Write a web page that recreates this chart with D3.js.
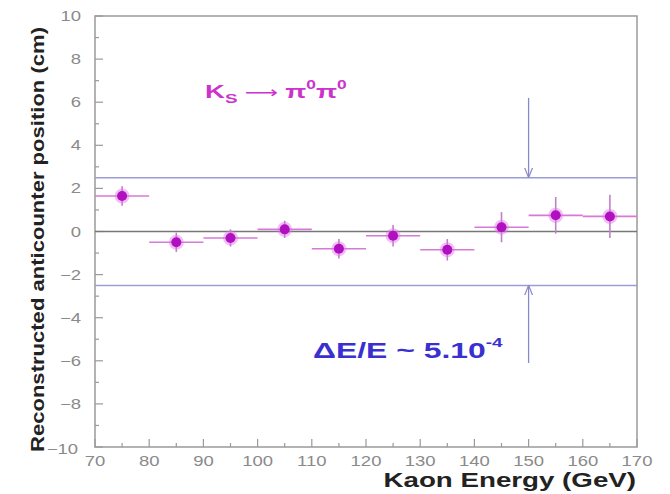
<!DOCTYPE html>
<html><head><meta charset="utf-8">
<script src="https://cdn.jsdelivr.net/npm/d3@7"></script>
<style>body{margin:0;background:#fff}svg{display:block}</style>
</head><body>
<svg id="c" width="670" height="494"></svg>
<script>
const energies = [75, 85, 95, 105, 115, 125, 135, 145, 155, 165];
const positions = [1.65, -0.5, -0.3, 0.1, -0.8, -0.2, -0.85, 0.2, 0.75, 0.7];
const posErrors = [0.45, 0.45, 0.4, 0.4, 0.45, 0.5, 0.5, 0.7, 0.85, 1.0];
const binHalfWidth = 5;
const xTicks = [70, 80, 90, 100, 110, 120, 130, 140, 150, 160, 170];
const yTicks = [-10, -8, -6, -4, -2, 0, 2, 4, 6, 8, 10];
const bandLimits = [2.5, -2.5];
const arrowX = 150;
const arrowStarts = [6.2, -6.1];

const svg = d3.select("#c");
const L = 95, R = 637, T = 16, B = 447;
const SX = 1.32; // horizontal stretch of the original picture's lettering
const FF = "Liberation Sans, Arial, sans-serif";
const x = d3.scaleLinear().domain([70, 170]).range([L, R]);
const y = d3.scaleLinear().domain([-10, 10]).range([B, T]);
const axisCol = "#9a9a9a";

// frame
svg.append("rect").attr("x", L).attr("y", T).attr("width", R - L).attr("height", B - T)
  .attr("fill", "none").attr("stroke", axisCol).attr("stroke-width", 1.5);

// ticks (inside)
const yMinor = d3.range(-10, 10.01, 1);
svg.append("g").selectAll("line").data(yMinor).join("line")
  .attr("x1", L).attr("x2", d => L + (d % 2 === 0 ? 8 : 4))
  .attr("y1", d => y(d)).attr("y2", d => y(d))
  .attr("stroke", axisCol).attr("stroke-width", 1.2);
const xMinor = d3.range(70, 170.01, 5);
svg.append("g").selectAll("line").data(xMinor).join("line")
  .attr("x1", d => x(d)).attr("x2", d => x(d))
  .attr("y1", B).attr("y2", d => B - (d % 10 === 0 ? 8 : 4))
  .attr("stroke", axisCol).attr("stroke-width", 1.2);

// tick labels
svg.append("g").selectAll("text").data(yTicks).join("text")
  .attr("transform", d => `translate(${d === -10 ? L - 17 : L - 14},${y(d) + 5 + (d === -10 ? 2 : 0)}) scale(${SX},1)`)
  .attr("text-anchor", "end").attr("fill", "#8a8a8a")
  .attr("font-family", FF).attr("font-size", 14)
  .text(d => d < 0 ? "\u2212" + Math.abs(d) : d);
svg.append("g").selectAll("text").data(xTicks).join("text")
  .attr("transform", d => `translate(${x(d)},${B + 19}) scale(${SX},1)`)
  .attr("text-anchor", "middle").attr("fill", "#8a8a8a")
  .attr("font-family", FF).attr("font-size", 14)
  .text(d => d);

// axis titles
svg.append("text").attr("transform", `translate(44,${(T + B) / 2 + 8}) rotate(-90)`)
  .attr("text-anchor", "middle").attr("font-family", FF)
  .attr("font-weight", "bold").attr("font-size", 18).attr("fill", "#222")
  .attr("textLength", 425).attr("lengthAdjust", "spacingAndGlyphs")
  .text("Reconstructed anticounter position (cm)");
svg.append("text").attr("transform", `translate(${R - 1},${B + 40}) scale(${SX},1)`).attr("text-anchor", "end")
  .attr("font-family", FF)
  .attr("font-weight", "bold").attr("font-size", 21).attr("fill", "#222")
  .text("Kaon Energy (GeV)");

// zero line and band lines
svg.append("line").attr("x1", L).attr("x2", R).attr("y1", y(0)).attr("y2", y(0))
  .attr("stroke", "#777").attr("stroke-width", 1.3);
svg.append("g").selectAll("line").data(bandLimits).join("line")
  .attr("x1", L).attr("x2", R).attr("y1", d => y(d)).attr("y2", d => y(d))
  .attr("stroke", "#9c9cd8").attr("stroke-width", 1.5);

// arrows
const defs = svg.append("defs");
defs.append("marker").attr("id", "ah").attr("viewBox", "0 0 10 10").attr("refX", 10).attr("refY", 5)
  .attr("markerWidth", 10).attr("markerHeight", 10).attr("markerUnits", "userSpaceOnUse").attr("orient", "auto")
  .append("path").attr("d", "M0,1 L10,5 L0,9").attr("fill", "none").attr("stroke", "#8888cc").attr("stroke-width", 1.2);
svg.append("g").selectAll("line").data(arrowStarts).join("line")
  .attr("x1", x(arrowX)).attr("x2", x(arrowX))
  .attr("y1", d => y(d)).attr("y2", (d, i) => y(bandLimits[i]))
  .attr("stroke", "#8888cc").attr("stroke-width", 1.3).attr("marker-end", "url(#ah)");

// data
const pts = energies.map((e, i) => ({e, v: positions[i], err: posErrors[i]}));
const g = svg.append("g");
g.selectAll(".hx").data(pts).join("line")
  .attr("x1", d => x(d.e - binHalfWidth)).attr("x2", d => x(d.e + binHalfWidth))
  .attr("y1", d => y(d.v)).attr("y2", d => y(d.v))
  .attr("stroke", "#d77ad7").attr("stroke-width", 1.6);
g.selectAll(".vy").data(pts).join("line")
  .attr("x1", d => x(d.e)).attr("x2", d => x(d.e))
  .attr("y1", d => y(d.v - d.err)).attr("y2", d => y(d.v + d.err))
  .attr("stroke", "#c080c8").attr("stroke-width", 1.6);
g.selectAll(".glow").data(pts).join("circle")
  .attr("cx", d => x(d.e)).attr("cy", d => y(d.v)).attr("r", 7.5)
  .attr("fill", "#e070e8").attr("opacity", 0.45);
g.selectAll(".pt").data(pts).join("circle")
  .attr("cx", d => x(d.e)).attr("cy", d => y(d.v)).attr("r", 5)
  .attr("fill", "#b010c0");

// annotations
const t1 = svg.append("text").attr("transform", `translate(205,98) scale(1.45,1)`)
  .attr("font-family", FF).attr("font-weight", "bold")
  .attr("font-size", 19).attr("fill", "#cc33cc");
t1.append("tspan").text("K");
t1.append("tspan").attr("font-size", 13).attr("dy", 5).text("S");
t1.append("tspan").attr("dy", -5).attr("dx", 5).attr("font-weight", "normal")
  .attr("font-family", "DejaVu Sans").attr("font-size", 16).text("\u27f6");
t1.append("tspan").attr("dx", 5).text("\u03c0");
t1.append("tspan").attr("font-size", 12).attr("dy", -9).text("0");
t1.append("tspan").attr("dy", 9).text("\u03c0");
t1.append("tspan").attr("font-size", 12).attr("dy", -9).text("0");

const t2 = svg.append("text").attr("transform", `translate(313,358) scale(1.45,1)`)
  .attr("font-family", FF).attr("font-weight", "bold")
  .attr("font-size", 22).attr("fill", "#3a30d0");
t2.append("tspan").text("\u0394E/E ~ 5.10");
t2.append("tspan").attr("font-size", 13).attr("dy", -11).text("-4");
</script>
</body></html>
